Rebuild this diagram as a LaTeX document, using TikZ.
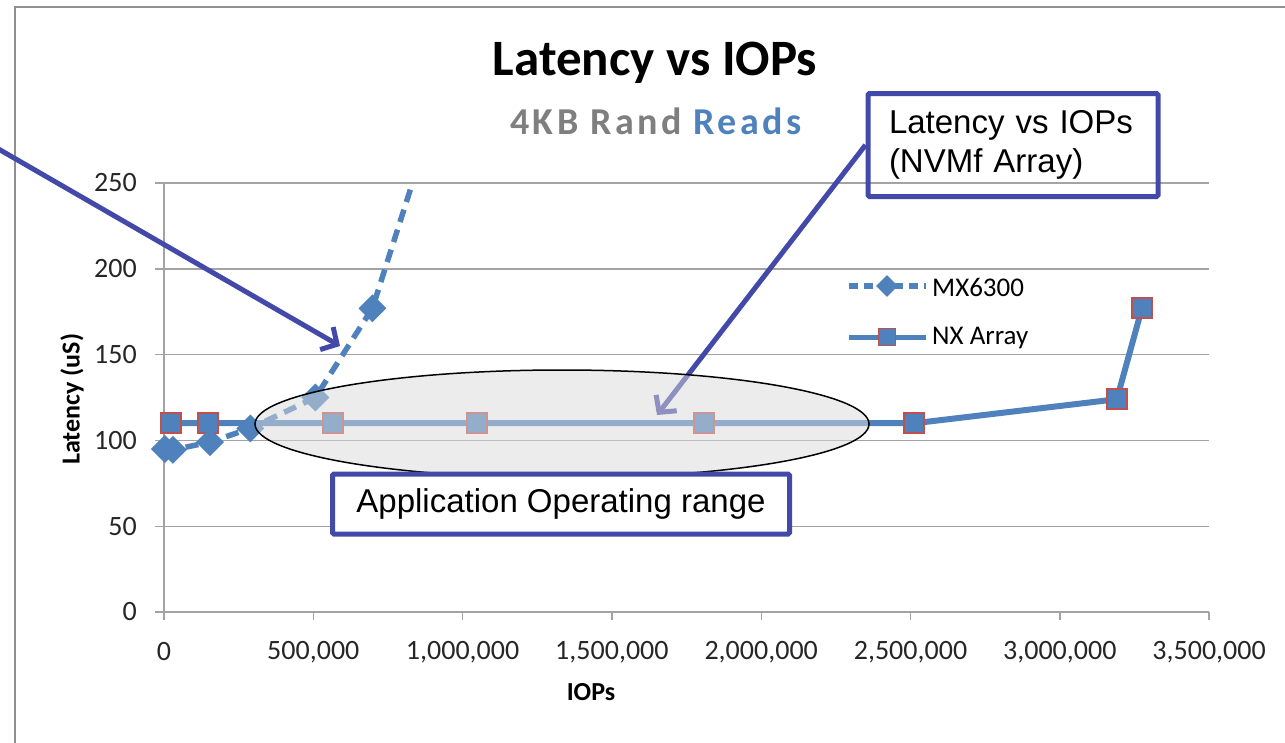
\documentclass[tikz,border=0pt]{standalone}
\usepackage{fontspec}
\setmainfont{Carlito}
\newfontfamily\calloutfont{Liberation Sans}
\usetikzlibrary{shapes.geometric,arrows.meta}
\definecolor{serblue}{HTML}{4F81BD}
\definecolor{serred}{HTML}{C0504D}
\definecolor{calloutblue}{HTML}{4349A8}
\definecolor{gridgray}{HTML}{A3A3A3}
\definecolor{framegray}{HTML}{8F8F8F}
\definecolor{subgray}{HTML}{7F7F7F}
\definecolor{rangegray}{HTML}{D9D9D9}
\tikzset{
  gridline/.style={gridgray, line width=1.4pt},
  ticklabel/.style={font=\fontsize{28}{30}\selectfont, text=black!85, inner sep=0pt},
  axistitle/.style={font=\bfseries\fontsize{26}{28}\selectfont, inner sep=0pt},
  nxmark/.style={rectangle, draw=serred, fill=serblue, line width=2pt, minimum size=20pt, inner sep=0pt},
  mxmark/.style={diamond, fill=serblue, minimum size=28pt, inner sep=0pt},
  nxline/.style={serblue, line width=6pt, line join=round},
  mxline/.style={serblue, line width=5.5pt, dash pattern=on 13pt off 8pt},
  calloutbox/.style={draw=calloutblue, line width=5pt, rounded corners=1.5pt, font=\calloutfont\fontsize{33}{39}\selectfont},
  calloutarrow/.style={calloutblue, line width=5pt, -{Straight Barb[length=12pt,width=26pt]}},
}

\begin{document}
\begin{tikzpicture}[x=1pt, y=-1pt]
\useasboundingbox (0,0) rectangle (1285,742);
\draw[framegray, line width=2pt] (15,760) -- (15,7) -- (1300,7);

\node[font=\bfseries\fontsize{51}{54}\selectfont] (title) at (655,63) {Latency vs IOPs};
\node[font=\bfseries\fontsize{38}{40}\selectfont\addfontfeature{LetterSpace=9}] (subtitle) at (656,121)
  {\textcolor{subgray}{4KB Rand} \textcolor{serblue}{Reads}};

\begin{scope}[shift={(164,612)}, x=0.2986pt, y=1.716pt]
  \foreach \v in {50,100,...,250}
    \draw[gridline] (0,\v) -- (3500,\v);
  \draw[gridline] (0,0) -- (3500,0);
  \draw[gridline] (0,0) -- (0,250);
  \foreach \v in {0,50,...,250} {
    \draw[gridline] (0,\v) -- ++(-9pt,0);
    \node[ticklabel, anchor=east] (ylab\v) at ([xshift=-27pt]0,\v) {\v};
  }
  \foreach \k/\t in {0/0, 500/{500,000}, 1000/{1,000,000}, 1500/{1,500,000}, 2000/{2,000,000},
                     2500/{2,500,000}, 3000/{3,000,000}, 3500/{3,500,000}} {
    \draw[gridline] (\k,0) -- ++(0,-8pt);
    \node[ticklabel] (xlab\k) at ([yshift=-40pt]\k,0) {\t};
  }
  \node[axistitle] (xtitle) at ([yshift=-80pt]1430,0) {IOPs};
  \node[axistitle, rotate=90] (ytitle) at ([xshift=-92pt]0,124) {Latency (uS)};

  \foreach \x/\y [count=\i] in {3/95, 30/94.5, 154/99, 289/107, 507/125, 698/177, 832/250}
    \coordinate (mx\i) at (\x,\y);
  \foreach \x/\y [count=\i] in {23/110, 148/110, 567/110, 1047/110, 1809/110, 2513/110, 3191/124, 3275/177}
    \coordinate (nx\i) at (\x,\y);
\end{scope}

\draw[nxline] (nx1) -- (nx2) -- (nx3) -- (nx4) -- (nx5) -- (nx6) -- (nx7) -- (nx8);
\draw[mxline] (mx1) -- (mx2) -- (mx3) -- (mx4) -- (mx5) -- (mx6) -- (mx7);
\foreach \i in {1,...,8}
  \node[nxmark] (nxm\i) at (nx\i) {};
\foreach \i in {1,...,6}
  \node[mxmark] (mxm\i) at (mx\i) {};

\draw[mxline, dash pattern=on 9pt off 6pt] (849,286) -- (926,286);
\node[mxmark, minimum size=22pt] (mxkey) at (887,286) {};
\node[anchor=west, font=\fontsize{27}{30}\selectfont, inner sep=0pt] (mxname) at (932,287) {MX6300};
\draw[nxline, line width=5pt] (849,337) -- (926,337);
\node[nxmark, minimum size=17pt, line width=1.6pt] (nxkey) at (887,337) {};
\node[anchor=west, font=\fontsize{27}{30}\selectfont, inner sep=0pt] (nxname) at (932,338) {NX Array};

\node[calloutbox, minimum width=290pt, minimum height=103pt, text width=248pt, align=left] (nvmfbox) at (1013,145)
  {Latency vs IOPs\\(NVMf Array)};
\coordinate (nvmftip) at (657,415);
\draw[calloutarrow] (nvmfbox.west) -- (nvmftip);

\node[ellipse, draw, line width=1.5pt, fill=rangegray, fill opacity=0.5, minimum width=614pt, minimum height=108pt] (range) at (562,424) {};

\coordinate (leftstart) at (-5,147);
\coordinate (mxtip) at (340,346);
\draw[calloutarrow] (leftstart) -- (mxtip);

\node[calloutbox, fill=white, minimum width=457pt, minimum height=60pt] (rangebox) at (561,504) {Application Operating range};
\end{tikzpicture}
\end{document}
